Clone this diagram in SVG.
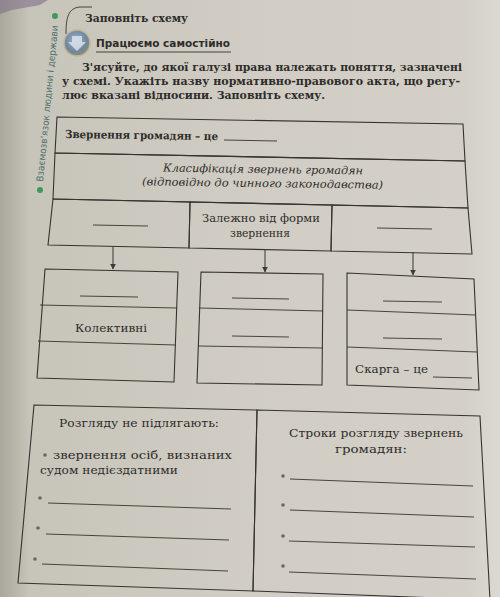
<svg xmlns="http://www.w3.org/2000/svg" width="500" height="597" viewBox="0 0 500 597">
<defs>
<linearGradient id="page" x1="0" y1="0" x2="1" y2="0">
<stop offset="0" stop-color="#a9a89c"/>
<stop offset="0.06" stop-color="#c7c4ba"/>
<stop offset="0.5" stop-color="#d1cdc4"/>
<stop offset="0.93" stop-color="#d4d0c7"/>
<stop offset="1" stop-color="#dcd9d1"/>
</linearGradient>
<radialGradient id="icon" cx="0.45" cy="0.4" r="0.6">
<stop offset="0" stop-color="#9fb4c8"/>
<stop offset="0.7" stop-color="#6f86a0"/>
<stop offset="1" stop-color="#8a8f6a"/>
</radialGradient>
<marker id="arr" viewBox="0 0 10 10" refX="9" refY="5" markerWidth="6" markerHeight="6" orient="auto" markerUnits="userSpaceOnUse">
<path d="M0,0 L10,5 L0,10 z" fill="#3c3a38"/>
</marker>
<style>
.box{fill:none;stroke:#363432;stroke-width:1.1}
.ln{fill:none;stroke:#363432;stroke-width:0.9}
.con{fill:none;stroke:#363432;stroke-width:1;marker-end:url(#arr)}
.t{font-family:"DejaVu Serif","Liberation Serif",serif;fill:#2e2c2a;font-size:11px}
.b{font-weight:bold}
.i{font-style:italic}
.s{font-family:"DejaVu Sans","Liberation Sans",sans-serif}
.dot{fill:#6a6864}
</style>
</defs>
<rect x="0" y="0" width="500" height="597" fill="url(#page)"/>
<polygon points="0,0 48,0 40,5 12,10 0,14" fill="#7d6f86" opacity="0.6"/>

<g id="header">
<path class="ln" d="M66,34 C66,18 68,8 80,7 L92,7"/>
<text class="t b" x="85" y="22" font-size="12" textLength="103" lengthAdjust="spacingAndGlyphs">Заповніть схему</text>
<circle cx="77" cy="43" r="13" fill="url(#icon)" stroke="#bfb79a" stroke-width="1.5"/>
<path d="M72,36 L82,36 L82,42 L86,42 L77,51 L68,42 L72,42 z" fill="#dfe6ee" opacity="0.8"/>
<text class="s b" x="96" y="47" font-size="11" fill="#2e2c2a" textLength="134" lengthAdjust="spacingAndGlyphs">Працюємо самостійно</text>
<line class="ln" x1="96" y1="52" x2="231" y2="52"/>
</g>

<g id="side-title">
<circle cx="55" cy="16" r="3" fill="#3f9a5a"/>
<circle cx="40" cy="190" r="3" fill="#3f9a5a"/>
<text class="s" transform="translate(43,182) rotate(-84.5)" font-size="9.5" fill="#4f7370" textLength="157" lengthAdjust="spacingAndGlyphs">Взаємозв'язок людини і держави</text>
</g>

<g id="instruction">
<text class="t b" x="82" y="71" font-size="12" textLength="380" lengthAdjust="spacingAndGlyphs">З'ясуйте, до якої галузі права належать поняття, зазначені</text>
<text class="t b" x="62" y="85" font-size="12" textLength="398" lengthAdjust="spacingAndGlyphs">у схемі. Укажіть назву нормативно-правового акта, що регу-</text>
<text class="t b" x="62" y="99" font-size="12" textLength="263" lengthAdjust="spacingAndGlyphs">лює вказані відносини. Заповніть схему.</text>
</g>

<g id="node-definition">
<polygon class="box" points="57,117 463,124 465,161 55,153"/>
<text class="t b" x="65" y="138" textLength="153" lengthAdjust="spacingAndGlyphs" transform="rotate(0.8 65 138)">Звернення громадян – це</text>
<line class="ln" x1="224" y1="140" x2="277" y2="141"/>
</g>

<g id="node-classification">
<polygon class="box" points="55,153 465,161 468,208 53,199"/>
<text class="t i" x="163" y="173" textLength="200" lengthAdjust="spacingAndGlyphs" transform="rotate(0.8 263 173)">Класифікація звернень громадян</text>
<text class="t i" x="142" y="187" textLength="241" lengthAdjust="spacingAndGlyphs" transform="rotate(0.8 263 187)">(відповідно до чинного законодавства)</text>
</g>

<g id="node-criterion-left">
<polygon class="box" points="53,199 190,202 189,248 48,245"/>
<line class="ln" x1="93" y1="225" x2="148" y2="226"/>
</g>

<g id="node-criterion-form">
<polygon class="box" points="190,202 332,205 331,251 189,248"/>
<text class="t" x="202" y="222" textLength="118" lengthAdjust="spacingAndGlyphs">Залежно від форми</text>
<text class="t" x="230" y="237" textLength="60" lengthAdjust="spacingAndGlyphs">звернення</text>
</g>

<g id="node-criterion-right">
<polygon class="box" points="332,205 468,208 472,254 331,251"/>
<line class="ln" x1="377" y1="228" x2="432" y2="229"/>
</g>

<g id="connectors">
<path class="con" d="M113,247 L113,269"/>
<path class="con" d="M265,250 L265,272"/>
<path class="con" d="M413,252 L413,275"/>
</g>

<g id="node-box1">
<polygon class="box" points="45,269 178,272 174,382 37,378"/>
<line class="ln" x1="40" y1="305" x2="177" y2="308"/>
<line class="ln" x1="38" y1="341" x2="176" y2="345"/>
<line class="ln" x1="80" y1="296" x2="138" y2="297"/>
<text class="t" x="75" y="332" textLength="72" lengthAdjust="spacingAndGlyphs">Колективні</text>
</g>

<g id="node-box2">
<polygon class="box" points="201,272 323,274 322,385 197,383"/>
<line class="ln" x1="199" y1="308" x2="323" y2="311"/>
<line class="ln" x1="198" y1="346" x2="323" y2="348"/>
<line class="ln" x1="232" y1="298" x2="289" y2="299"/>
<line class="ln" x1="232" y1="336" x2="289" y2="337"/>
</g>

<g id="node-box3">
<polygon class="box" points="347,273 474,279 479,390 347,385"/>
<line class="ln" x1="347" y1="310" x2="476" y2="315"/>
<line class="ln" x1="347" y1="347" x2="477" y2="352"/>
<line class="ln" x1="383" y1="301" x2="442" y2="302"/>
<line class="ln" x1="383" y1="338" x2="442" y2="339"/>
<text class="t" x="355" y="373" textLength="73" lengthAdjust="spacingAndGlyphs">Скарга – це</text>
<line class="ln" x1="433" y1="377" x2="472" y2="378"/>
</g>

<g id="node-not-considered">
<polygon class="box" points="34,405 257,410 253,591 18,583"/>
<text class="t" x="59" y="427" font-size="11.5" textLength="160" lengthAdjust="spacingAndGlyphs">Розгляду не підлягають:</text>
<circle class="dot" cx="45" cy="455" r="1.8"/>
<text class="t" x="53" y="459" font-size="11.5" textLength="179" lengthAdjust="spacingAndGlyphs">звернення  осіб,  визнаних</text>
<text class="t" x="40" y="474" font-size="11.5" textLength="138" lengthAdjust="spacingAndGlyphs">судом недієздатними</text>
<circle class="dot" cx="40" cy="498" r="1.8"/>
<line class="ln" x1="48" y1="503" x2="231" y2="509"/>
<circle class="dot" cx="38" cy="528" r="1.8"/>
<line class="ln" x1="46" y1="534" x2="229" y2="540"/>
<circle class="dot" cx="35" cy="559" r="1.8"/>
<line class="ln" x1="42" y1="564" x2="228" y2="571"/>
</g>

<g id="node-terms">
<polygon class="box" points="257,410 480,416 490,600 253,591"/>
<text class="t" x="289" y="437" font-size="11.5" textLength="174" lengthAdjust="spacingAndGlyphs">Строки розгляду звернень</text>
<text class="t" x="335" y="453" font-size="11.5" textLength="72" lengthAdjust="spacingAndGlyphs">громадян:</text>
<circle class="dot" cx="283" cy="476" r="1.8"/>
<line class="ln" x1="290" y1="479" x2="473" y2="486"/>
<circle class="dot" cx="283" cy="505" r="1.8"/>
<line class="ln" x1="290" y1="510" x2="474" y2="517"/>
<circle class="dot" cx="283" cy="536" r="1.8"/>
<line class="ln" x1="289" y1="541" x2="475" y2="547"/>
<circle class="dot" cx="283" cy="566" r="1.8"/>
<line class="ln" x1="289" y1="572" x2="476" y2="579"/>
</g>
</svg>
